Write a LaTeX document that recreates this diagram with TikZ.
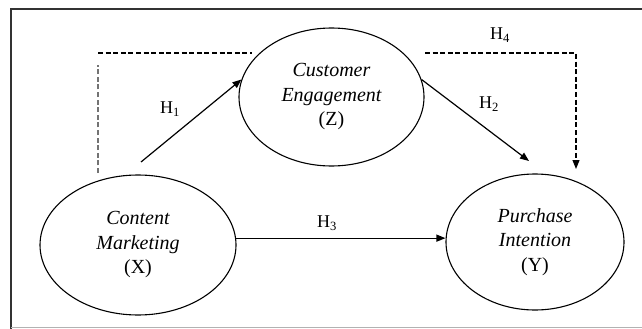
\documentclass[tikz,border=0pt]{standalone}
\usepackage{fontspec}
\setmainfont{Liberation Serif}
\usetikzlibrary{shapes.geometric,arrows.meta}

\begin{document}
\begin{tikzpicture}[x=1pt,y=-1pt,
  construct/.style={ellipse, draw, line width=1.1pt, inner sep=0pt, align=center,
    font=\fontsize{20}{24.5}\selectfont},
  path/.style={line width=1.2pt, -{Triangle[length=9pt,width=7pt]}},
  indirect/.style={line width=1.1pt, dash pattern=on 5pt off 2.6pt},
  hyp/.style={font=\fontsize{18}{20}\selectfont, inner sep=0pt},
  frameline/.style={line width=1.4pt, draw=black!80}]

  \useasboundingbox (0,0) rectangle (642,329);

  % outer frame (left, top and bottom sides)
  \draw[frameline] (11,329) -- (11,9) -- (642,9);
  \draw[line width=0.8pt, draw=black!30] (11,327) -- (642,327);

  % constructs
  \node[construct, minimum width=196pt, minimum height=140pt] (X) at (138,245)
    {\itshape Content\\ \itshape Marketing\\ (X)};
  \node[construct, minimum width=185pt, minimum height=138pt] (Z) at (331.5,97)
    {\itshape Customer\\ \itshape Engagement\\ (Z)};
  \node[construct, minimum width=178pt, minimum height=136pt] (Y) at (535,242)
    {\itshape Purchase\\ \itshape Intention\\ (Y)};

  % direct paths
  \coordinate (h1s) at (141,162);
  \coordinate (h2e) at (529,161);
  \draw[path] (h1s) -- (Z.169);
  \draw[path] (Z.11) -- (h2e);
  \draw[path] (X.4) -- (X.4 -| Y.west);

  % mediated path, drawn around the mediator
  \coordinate (m1) at (98,173);
  \coordinate (m2) at (98,65);
  \coordinate (m3) at (98,53);
  \coordinate (m4) at (252,53);
  \coordinate (m5) at (425,53);
  \coordinate (m6) at (576,53);
  \coordinate (m7) at (576,169);
  \draw[indirect, draw=black!55] (m1) -- (m2);
  \draw[indirect] (m3) -- (m4);
  \draw[indirect, -{Triangle[length=9pt,width=7pt]}] (m5) -- (m6) -- (m7);

  % hypothesis labels
  \node[hyp] (H1) at (170,109) {H\textsubscript{1}};
  \node[hyp] (H2) at (489,104) {H\textsubscript{2}};
  \node[hyp] (H3) at (327,223) {H\textsubscript{3}};
  \node[hyp] (H4) at (500,35) {H\textsubscript{4}};
\end{tikzpicture}
\end{document}
